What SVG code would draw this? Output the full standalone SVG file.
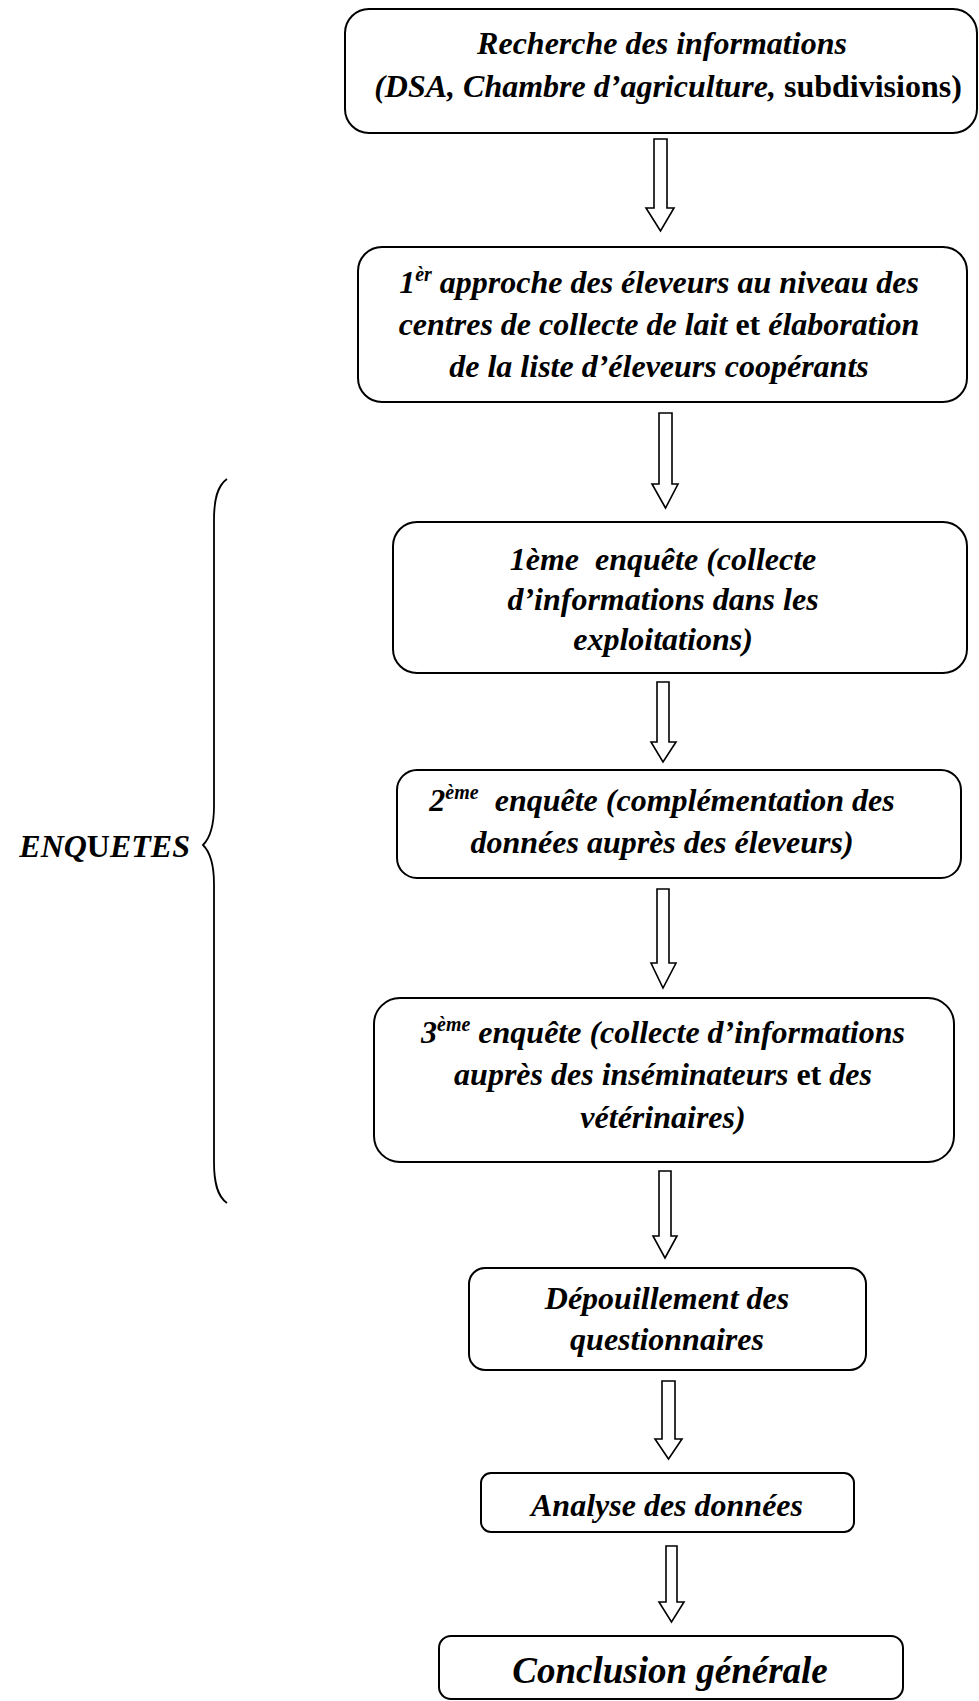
<svg xmlns="http://www.w3.org/2000/svg" width="979" height="1701" viewBox="0 0 979 1701">
<style>
.box{fill:#fff;stroke:#000;stroke-width:2}
.arr{fill:#fff;stroke:#000;stroke-width:1.6;stroke-linejoin:miter}
.t{font-family:"Liberation Serif","Times New Roman",serif;font-size:32px;font-weight:bold;font-style:italic;fill:#000;text-anchor:middle}
.up{font-style:normal}
.sup{font-size:20px}
.big{font-size:37px}
.brace{fill:none;stroke:#000;stroke-width:1.8}
</style>
<rect width="979" height="1701" fill="#fff"/>
<g id="connectors">
<path class="arr" d="M654,139 H667 V208 H674 L660.5,231 L646,208 H654 Z"/>
<path class="arr" d="M659,413 H672 V484 H678 L665.5,508 L652,484 H659 Z"/>
<path class="arr" d="M657,682 H669 V742 H676 L663,762 L651,742 H657 Z"/>
<path class="arr" d="M657,889 H669 V963 H676 L663,988 L651,963 H657 Z"/>
<path class="arr" d="M659,1171 H671 V1236 H677 L665,1258 L653,1236 H659 Z"/>
<path class="arr" d="M662,1381 H675 V1439 H682 L668.5,1459 L655,1439 H662 Z"/>
<path class="arr" d="M666,1546 H677 V1602 H684 L671.5,1622 L659,1602 H666 Z"/>
</g>
<g id="n1">
<rect class="box" x="345" y="9" width="632" height="124" rx="24"/>
<text class="t" x="662" y="54">Recherche des informations</text>
<text class="t" x="668" y="97">(DSA, Chambre d’agriculture,<tspan class="up"> subdivisions)</tspan></text>
</g>
<g id="n2">
<rect class="box" x="358" y="247" width="609" height="155" rx="24"/>
<text class="t" x="659" y="293">1<tspan class="sup" dy="-12">èr</tspan><tspan dy="12"> approche des éleveurs au niveau des</tspan></text>
<text class="t" x="659" y="335">centres de collecte de lait <tspan class="up">et</tspan> élaboration</text>
<text class="t" x="659" y="377">de la liste d’éleveurs coopérants</text>
</g>
<g id="n3">
<rect class="box" x="393" y="522" width="574" height="151" rx="24"/>
<text class="t" x="663" y="570" xml:space="preserve">1ème  enquête (collecte</text>
<text class="t" x="663" y="610">d’informations dans les</text>
<text class="t" x="663" y="650">exploitations)</text>
</g>
<g id="n4">
<rect class="box" x="397" y="770" width="564" height="108" rx="20"/>
<text class="t" x="662" y="811" xml:space="preserve">2<tspan class="sup" dy="-12">ème</tspan><tspan dy="12">  enquête (complémentation des</tspan></text>
<text class="t" x="662" y="853">données auprès des éleveurs)</text>
</g>
<g id="n5">
<rect class="box" x="374" y="998" width="580" height="164" rx="26"/>
<text class="t" x="663" y="1043">3<tspan class="sup" dy="-12">ème</tspan><tspan dy="12"> enquête (collecte d’informations</tspan></text>
<text class="t" x="663" y="1085">auprès des inséminateurs <tspan class="up">et</tspan> des</text>
<text class="t" x="663" y="1128">vétérinaires)</text>
</g>
<g id="n6">
<rect class="box" x="469" y="1268" width="397" height="102" rx="16"/>
<text class="t" x="667" y="1309">Dépouillement des</text>
<text class="t" x="667" y="1350">questionnaires</text>
</g>
<g id="n7">
<rect class="box" x="481" y="1473" width="373" height="59" rx="10"/>
<text class="t" x="667" y="1516">Analyse des données</text>
</g>
<g id="n8">
<rect class="box" x="439" y="1636" width="464" height="63" rx="12"/>
<text class="t big" x="670" y="1683">Conclusion générale</text>
</g>
<g id="enquetes">
<path class="brace" d="M227,479 C217,486 214,500 214,520 L214,806 C214,826 210,838 203,845 C210,852 214,864 214,884 L214,1162 C214,1182 217,1196 227,1203"/>
<text class="t" x="190" y="857" style="text-anchor:end">ENQ<tspan class="up">U</tspan>ETES</text>
</g>
</svg>
